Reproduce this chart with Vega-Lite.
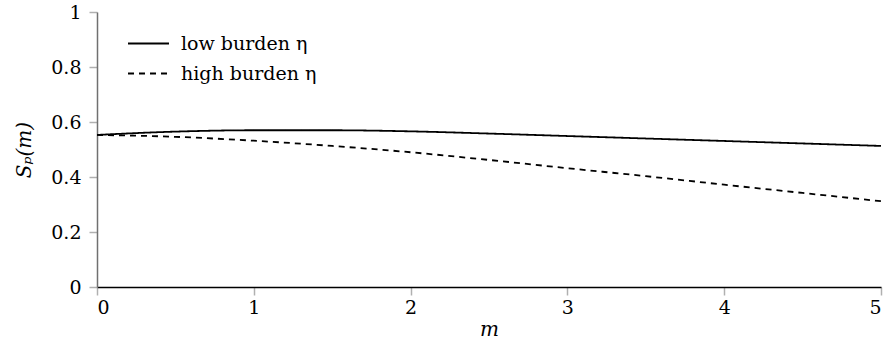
{
  "$schema": "https://vega.github.io/schema/vega-lite/v6.json",
  "autosize": "none",
  "width": 784,
  "height": 275,
  "padding": {"left": 97, "top": 12, "right": 8, "bottom": 59},
  "background": "white",
  "config": {
    "view": {"stroke": null},
    "font": "DejaVu Serif",
    "axis": {
      "grid": false,
      "labelFont": "DejaVu Serif",
      "labelFontSize": 19,
      "labelColor": "black",
      "titleFont": "DejaVu Serif",
      "titleFontSize": 20,
      "titleFontStyle": "italic",
      "titleFontWeight": "normal",
      "titleColor": "black",
      "tickColor": "#b0b0b0",
      "tickSize": 8,
      "tickWidth": 1.5
    },
    "legend": {"labelFont": "DejaVu Serif", "labelFontSize": 19, "labelColor": "black"}
  },
  "datasets": {
    "curves": [
      {"m": 0.0, "S": 0.553, "burden": "low burden η"},
      {"m": 0.5, "S": 0.565, "burden": "low burden η"},
      {"m": 1.0, "S": 0.570, "burden": "low burden η"},
      {"m": 1.5, "S": 0.570, "burden": "low burden η"},
      {"m": 2.0, "S": 0.566, "burden": "low burden η"},
      {"m": 2.5, "S": 0.558, "burden": "low burden η"},
      {"m": 3.0, "S": 0.549, "burden": "low burden η"},
      {"m": 3.5, "S": 0.540, "burden": "low burden η"},
      {"m": 4.0, "S": 0.531, "burden": "low burden η"},
      {"m": 4.5, "S": 0.522, "burden": "low burden η"},
      {"m": 5.0, "S": 0.513, "burden": "low burden η"},
      {"m": 0.0, "S": 0.553, "burden": "high burden η"},
      {"m": 0.5, "S": 0.546, "burden": "high burden η"},
      {"m": 1.0, "S": 0.532, "burden": "high burden η"},
      {"m": 1.5, "S": 0.513, "burden": "high burden η"},
      {"m": 2.0, "S": 0.490, "burden": "high burden η"},
      {"m": 2.5, "S": 0.462, "burden": "high burden η"},
      {"m": 3.0, "S": 0.432, "burden": "high burden η"},
      {"m": 3.5, "S": 0.403, "burden": "high burden η"},
      {"m": 4.0, "S": 0.372, "burden": "high burden η"},
      {"m": 4.5, "S": 0.342, "burden": "high burden η"},
      {"m": 5.0, "S": 0.312, "burden": "high burden η"}
    ]
  },
  "layer": [
    {
      "data": {"name": "curves"},
      "mark": {"type": "line", "interpolate": "monotone", "color": "black", "strokeWidth": 1.8},
      "encoding": {
        "x": {
          "field": "m", "type": "quantitative",
          "scale": {"domain": [0, 5], "nice": false},
          "axis": {
            "values": [0, 1, 2, 3, 4, 5], "format": "~g",
            "domainColor": "black", "domainWidth": 1.5,
            "labelPadding": 3, "title": "m", "titlePadding": 2
          }
        },
        "y": {
          "field": "S", "type": "quantitative",
          "scale": {"domain": [0, 1], "nice": false},
          "axis": {
            "values": [0, 0.2, 0.4, 0.6, 0.8, 1], "format": "~g",
            "domainColor": "#707070", "domainWidth": 1.5,
            "labelPadding": 8, "title": "Sₚ(m)", "titlePadding": 16
          }
        },
        "strokeDash": {
          "field": "burden", "type": "nominal",
          "sort": ["low burden η", "high burden η"],
          "scale": {"domain": ["low burden η", "high burden η"], "range": [[1, 0], [6, 5]]},
          "legend": {
            "title": null,
            "orient": "none",
            "legendX": 40,
            "legendY": 20,
            "symbolType": "M -2 0 L 2 0",
            "symbolSize": 420,
            "symbolStrokeWidth": 1.8,
            "symbolStrokeColor": "black",
            "symbolFillColor": "transparent",
            "labelFont": "DejaVu Serif",
            "labelFontSize": 19,
            "labelColor": "black",
            "labelOffset": 21,
            "rowPadding": 8
          }
        }
      }
    },
    {
      "mark": {"type": "point", "shape": "M -1 -0.75 Q -0.2 -0.15 1 0 Q -0.2 0.15 -1 0.75", "filled": false, "stroke": "black", "strokeWidth": 1.3, "size": 64},
      "encoding": {"x": {"datum": 5}, "y": {"datum": 0}}
    },
    {
      "mark": {"type": "point", "shape": "M -0.75 1 Q -0.15 0.2 0 -1 Q 0.15 0.2 0.75 1", "filled": false, "stroke": "black", "strokeWidth": 1.3, "size": 64},
      "encoding": {"x": {"datum": 0}, "y": {"datum": 1}}
    }
  ]
}
